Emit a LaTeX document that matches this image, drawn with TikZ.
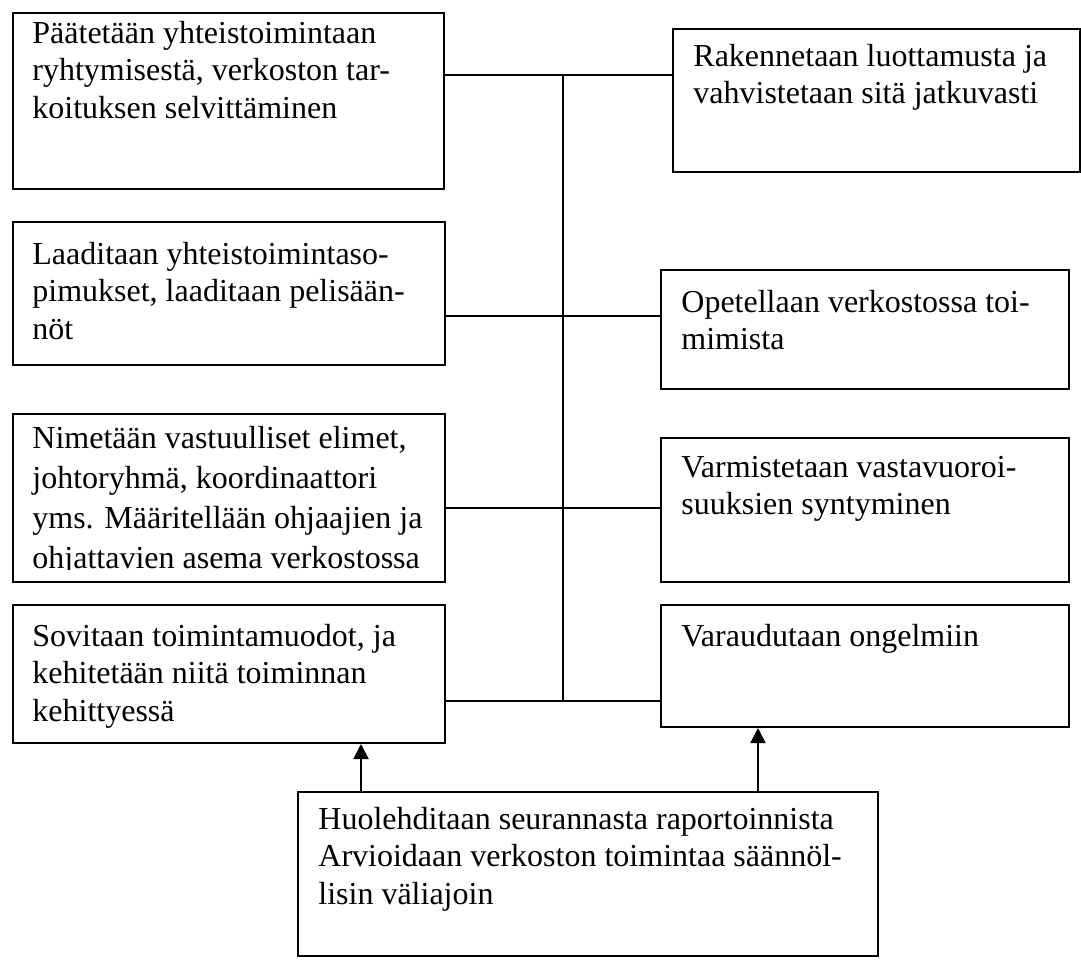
\documentclass[tikz,border=0pt]{standalone}
\usepackage{fontspec}
\setmainfont{Liberation Serif}
\usetikzlibrary{arrows.meta}

\tikzset{
  box/.style={draw, line width=1pt, anchor=north west, inner sep=0pt},
  txt/.style={anchor=north west, align=left, inner sep=0pt,
    font=\fontsize{16pt}{18.6pt}\selectfont},
  arr/.style={line width=1pt, -{Triangle[length=7.5pt, width=7.5pt]}}
}

\begin{document}
\begin{tikzpicture}[x=0.5pt, y=-0.5pt]
            \useasboundingbox (0, 0) rectangle (1081, 960);
            % left column
            \node[box, minimum width=215.5pt, minimum height=88pt] (paat) at (12, 12) {};
            \node[box, minimum width=216pt, minimum height=71.5pt] (laad) at (12, 221) {};
            \node[box, minimum width=216pt, minimum height=84pt] (nime) at (12, 413) {};
            \node[box, minimum width=216pt, minimum height=69pt] (sovi) at (12, 604) {};
            % right column
            \node[box, minimum width=203.5pt, minimum height=71.5pt] (rak) at (672, 28) {};
            \node[box, minimum width=204pt, minimum height=59.5pt] (opet) at (660, 269) {};
            \node[box, minimum width=204pt, minimum height=72pt] (varm) at (660, 437) {};
            \node[box, minimum width=204pt, minimum height=61pt] (vara) at (660, 604) {};
            \node[box, minimum width=290pt, minimum height=82pt] (huol) at (297, 791) {};

            \node[txt] (paat-t) at (32, 21) {Päätetään yhteistoimintaan\\ryhtymisestä, verkoston tar-\\koituksen selvittäminen};
            \node[txt] (laad-t) at (32, 242) {Laaditaan yhteistoimintaso-\\pimukset, laaditaan pelisään-\\nöt};
            \begin{scope}
              \clip (0, 413) rectangle (460, 569.5);
              \node[txt, font=\fontsize{16pt}{20pt}\selectfont] (nime-t) at (32, 426) {Nimetään vastuulliset elimet,\\johtoryhmä, koordinaattori\\yms. Määritellään ohjaajien ja\\ohjattavien asema verkostossa};
            \end{scope}
            \node[txt] (sovi-t) at (32, 624) {Sovitaan toimintamuodot, ja\\kehitetään niitä toiminnan\\kehittyessä};
            \node[txt] (rak-t) at (693, 44) {Rakennetaan luottamusta ja\\vahvistetaan sitä jatkuvasti};
            \node[txt] (opet-t) at (681, 290) {Opetellaan verkostossa toi-\\mimista};
            \node[txt] (varm-t) at (681, 456) {Varmistetaan vastavuoroi-\\suuksien syntyminen};
            \node[txt] (vara-t) at (681, 624) {Varaudutaan ongelmiin};
            \node[txt] (huol-t) at (318, 807) {Huolehditaan seurannasta raportoinnista\\Arvioidaan verkoston toimintaa säännöl-\\lisin väliajoin};

            % connecting lines
            \coordinate (top) at (563, 75);
            \coordinate (bot) at (563, 701);
            \draw[line width=1pt] (top) -- (bot);
            \draw[line width=1pt] (paat.east |- top) -- (rak.west |- top);
            \draw[line width=1pt] (laad.east |- 0, 316) -- (opet.west |- 0, 316);
            \draw[line width=1pt] (nime.east |- 0, 508) -- (varm.west |- 0, 508);
            \draw[line width=1pt] (sovi.east |- bot) -- (vara.west |- bot);

            \coordinate (a1) at (361, 0);
            \coordinate (a2) at (758, 0);
            \draw[arr] (huol.north -| a1) -- (sovi.south -| a1);
            \draw[arr] (huol.north -| a2) -- (vara.south -| a2);
        \end{tikzpicture}
\end{document}
